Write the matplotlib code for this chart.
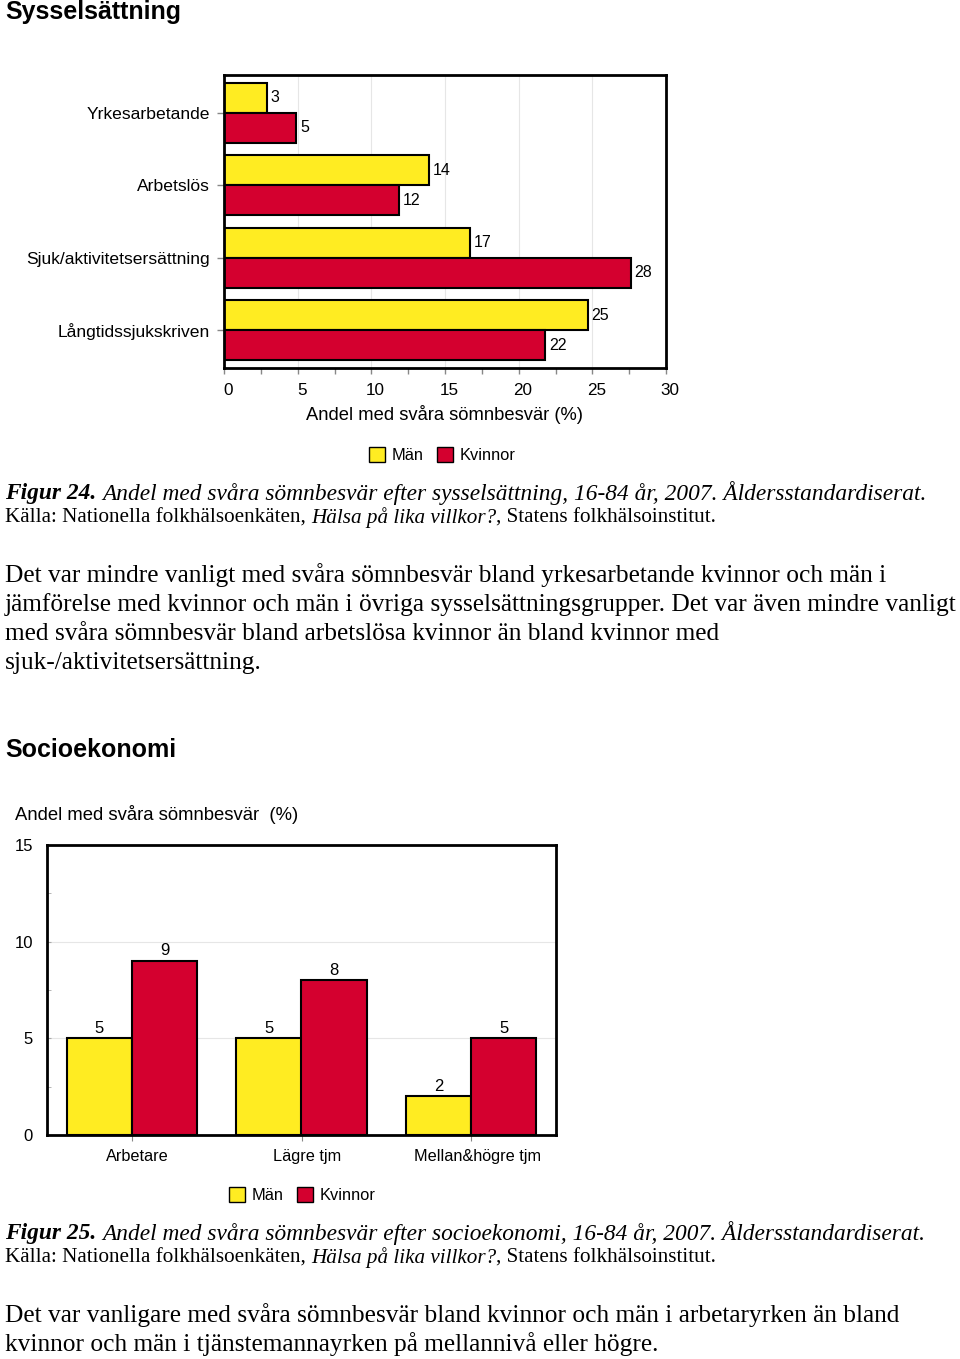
import matplotlib
matplotlib.use("Agg")
import matplotlib.pyplot as plt
import matplotlib.transforms as mtransforms
import numpy as np
from matplotlib.patches import Patch

# --- data ---
syss_cats = ["Yrkesarbetande", "Arbetslös", "Sjuk/aktivitetsersättning", "Långtidssjukskriven"]
syss_man = [2.9, 13.9, 16.7, 24.7]
syss_kvinnor = [4.9, 11.9, 27.6, 21.8]
syss_man_lbl = ["3", "14", "17", "25"]
syss_kvinnor_lbl = ["5", "12", "28", "22"]

soc_cats = ["Arbetare", "Lägre tjm", "Mellan&högre tjm"]
soc_man = [5.0, 5.0, 2.0]
soc_kvinnor = [9.0, 8.0, 5.0]
soc_man_lbl = ["5", "5", "2"]
soc_kvinnor_lbl = ["9", "8", "5"]

YELLOW = "#FFEC22"
RED = "#D4002F"
W, H = 960, 1359
SANS = "Liberation Sans"
SERIF = "Liberation Serif"

fig = plt.figure(figsize=(W / 100, H / 100), dpi=100)
fig.patch.set_facecolor("white")


def px(x, y):
    return x / W, 1 - y / H


def rich_line(x, y, parts, size):
    """Write text pieces with different styles after each other on one line."""
    renderer = fig.canvas.get_renderer()
    fx, fy = px(x, y)
    for s, style, weight in parts:
        t = fig.text(fx, fy, s, fontsize=size, family=SERIF, style=style,
                     weight=weight, va="center", ha="left")
        bb = t.get_window_extent(renderer)
        fx += bb.width / fig.bbox.width


def style_axes(ax):
    for sp in ax.spines.values():
        sp.set_linewidth(2)
        sp.set_color("black")
    ax.set_axisbelow(True)


def shift_labels(labels, dx_px):
    off = mtransforms.ScaledTranslation(dx_px / 100, 0, fig.dpi_scale_trans)
    for lab in labels:
        lab.set_transform(lab.get_transform() + off)


leg_handles = [Patch(facecolor=YELLOW, edgecolor="black", label="Män"),
               Patch(facecolor=RED, edgecolor="black", label="Kvinnor")]
leg_kw = dict(loc="center", ncol=2, frameon=False, prop={"family": SANS, "size": 11.8},
              handlelength=1.0, handleheight=1.0, handletextpad=0.4, columnspacing=0.8)

# --- Sysselsättning ---
fig.text(*px(5, 12), "Sysselsättning", fontsize=18, weight="bold", family=SANS, va="center")

ax1 = fig.add_axes([224 / W, 1 - 368 / H, (666 - 224) / W, (368 - 75) / H])
y = np.arange(len(syss_cats))
h = 0.415
ax1.barh(y - h / 2, syss_man, height=h, color=YELLOW, edgecolor="black", linewidth=1.5)
ax1.barh(y + h / 2, syss_kvinnor, height=h, color=RED, edgecolor="black", linewidth=1.5)
for i in range(len(syss_cats)):
    ax1.text(syss_man[i] + 0.25, y[i] - h / 2, syss_man_lbl[i], va="center", ha="left",
             fontsize=11.5, family=SANS)
    ax1.text(syss_kvinnor[i] + 0.25, y[i] + h / 2, syss_kvinnor_lbl[i], va="center", ha="left",
             fontsize=11.5, family=SANS)
ax1.set_xlim(0, 30)
ax1.set_ylim(3.52, -0.52)
ax1.set_yticks(y)
ax1.set_yticklabels(syss_cats, fontsize=12.6, family=SANS)
ax1.set_xticks(np.arange(0, 31, 5))
ax1.set_xticklabels([str(v) for v in range(0, 31, 5)], fontsize=12.3, family=SANS)
ax1.set_xticks(np.arange(0, 31, 2.5), minor=True)
ax1.tick_params(axis="y", length=5, width=1, color="#888888", pad=5)
ax1.tick_params(axis="x", which="both", length=4, width=1, color="#888888", pad=7)
shift_labels(ax1.get_xticklabels(), 4)
ax1.grid(axis="x", color="#e6e6e6", linewidth=0.8)
ax1.set_xlabel("Andel med svåra sömnbesvär (%)", fontsize=13.2, family=SANS, labelpad=5)
style_axes(ax1)

fig.legend(handles=leg_handles, bbox_to_anchor=px(442, 455), **leg_kw)

rich_line(5, 493, [("Figur 24. ", "italic", "bold"),
                   ("Andel med svåra sömnbesvär efter sysselsättning, 16-84 år, 2007. Åldersstandardiserat.",
                    "italic", "normal")], 16.85)
rich_line(5, 518, [("Källa: Nationella folkhälsoenkäten, ", "normal", "normal"),
                   ("Hälsa på lika villkor?", "italic", "normal"),
                   (", Statens folkhälsoinstitut.", "normal", "normal")], 15.2)

body1 = ["Det var mindre vanligt med svåra sömnbesvär bland yrkesarbetande kvinnor och män i",
         "jämförelse med kvinnor och män i övriga sysselsättningsgrupper. Det var även mindre vanligt",
         "med svåra sömnbesvär bland arbetslösa kvinnor än bland kvinnor med",
         "sjuk-/aktivitetsersättning."]
for i, line in enumerate(body1):
    fig.text(*px(5, 575 + i * 29.4), line, fontsize=18.3, family=SERIF, va="center")

# --- Socioekonomi ---
fig.text(*px(5, 750), "Socioekonomi", fontsize=18, weight="bold", family=SANS, va="center")
fig.text(*px(15, 815), "Andel med svåra sömnbesvär  (%)", fontsize=13.3, family=SANS, va="center")

ax2 = fig.add_axes([47 / W, 1 - 1135 / H, (556 - 47) / W, (1135 - 845) / H])
x = np.arange(len(soc_cats))
w = 0.385
b1 = ax2.bar(x - w / 2, soc_man, width=w, color=YELLOW, edgecolor="black", linewidth=1.5)
b2 = ax2.bar(x + w / 2, soc_kvinnor, width=w, color=RED, edgecolor="black", linewidth=1.5)
ax2.bar_label(b1, labels=soc_man_lbl, padding=2, fontsize=12, family=SANS)
ax2.bar_label(b2, labels=soc_kvinnor_lbl, padding=2, fontsize=12, family=SANS)
ax2.set_xlim(-0.5, 2.5)
ax2.set_ylim(0, 15)
ax2.set_xticks(x)
ax2.set_xticklabels(soc_cats, fontsize=11.7, family=SANS)
ax2.set_yticks([0, 5, 10, 15])
ax2.set_yticklabels(["0", "5", "10", "15"], fontsize=12, family=SANS)
ax2.set_yticks(np.arange(0, 15.1, 2.5), minor=True)
ax2.tick_params(axis="y", which="both", direction="in", length=3, color="#aaaaaa", pad=10)
ax2.tick_params(axis="x", length=4, color="#888888", pad=6)
shift_labels(ax2.get_xticklabels(), 6)
ax2.grid(axis="y", color="#e6e6e6", linewidth=0.8)
style_axes(ax2)

fig.legend(handles=leg_handles, bbox_to_anchor=px(302, 1195), **leg_kw)

rich_line(5, 1233, [("Figur 25. ", "italic", "bold"),
                    ("Andel med svåra sömnbesvär efter socioekonomi, 16-84 år, 2007. Åldersstandardiserat.",
                     "italic", "normal")], 16.85)
rich_line(5, 1258, [("Källa: Nationella folkhälsoenkäten, ", "normal", "normal"),
                    ("Hälsa på lika villkor?", "italic", "normal"),
                    (", Statens folkhälsoinstitut.", "normal", "normal")], 15.2)

body2 = ["Det var vanligare med svåra sömnbesvär bland kvinnor och män i arbetaryrken än bland",
         "kvinnor och män i tjänstemannayrken på mellannivå eller högre."]
for i, line in enumerate(body2):
    fig.text(*px(5, 1315 + i * 29.4), line, fontsize=18.3, family=SERIF, va="center")

fig.savefig("out.png", dpi=100, facecolor="white")
